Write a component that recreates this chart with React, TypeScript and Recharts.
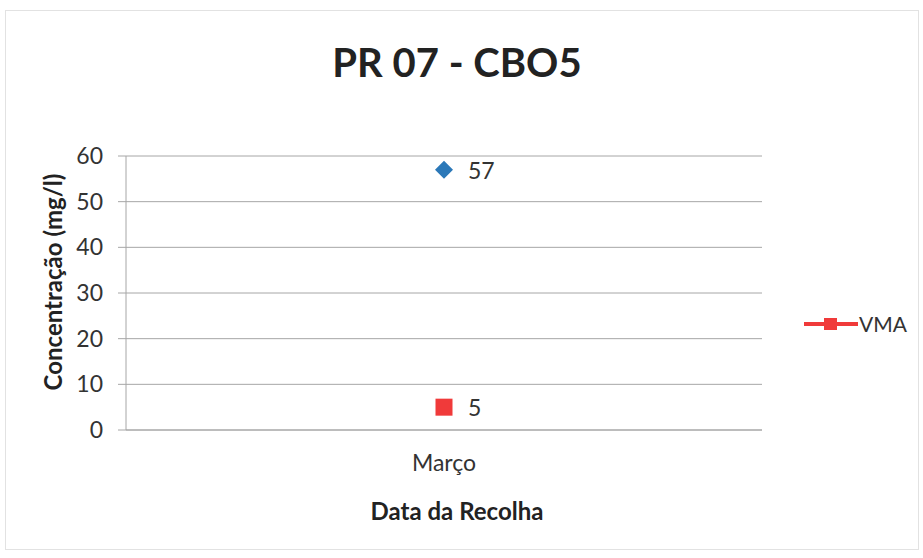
import { ComposedChart, Line, XAxis, YAxis, CartesianGrid } from 'recharts';

const categories = ['Março'];
const cbo5Values = [57];
const vmaValues = [5];
const yTicks = [0, 10, 20, 30, 40, 50, 60];

const data = categories.map((cat, i) => ({
  cat,
  cbo5: cbo5Values[i],
  vma: vmaValues[i],
}));

const FONT = 'Lato, "Open Sans", sans-serif';
const BLUE = '#2b78b8';
const RED = '#f03a3a';

const Diamond = (props: any) => {
  const { cx, cy } = props;
  if (cx == null || cy == null) return null;
  const r = 9;
  return <path d={`M${cx},${cy - r}L${cx + r},${cy}L${cx},${cy + r}L${cx - r},${cy}Z`} fill={BLUE} />;
};

const Square = (props: any) => {
  const { cx, cy } = props;
  if (cx == null || cy == null) return null;
  const s = 8.5;
  return <rect x={cx - s} y={cy - s} width={s * 2} height={s * 2} fill={RED} />;
};

const PointLabel = (props: any) => {
  const { x, y, value } = props;
  return (
    <text x={x + 24} y={y} dominantBaseline="central" fontSize={23} fill="#333" fontFamily={FONT}>
      {value}
    </text>
  );
};

const LegendBox = () => (
  <div style={{ display: 'flex', alignItems: 'center', fontFamily: FONT, fontSize: 21, color: '#333' }}>
    <svg width={54} height={14}>
      <line x1={0} y1={7} x2={54} y2={7} stroke={RED} strokeWidth={4} />
      <rect x={20} y={1} width={13} height={12} fill={RED} />
    </svg>
    <span style={{ marginLeft: 1 }}>VMA</span>
  </div>
);

const App = () => {
  return (
    <div style={{ position: 'absolute', left: 0, top: 0, width: 923, height: 558, background: '#fff' }}>
      <div
        style={{
          position: 'absolute',
          left: 5,
          top: 10,
          width: 912,
          height: 538,
          border: '1px solid #e2e2e2',
        }}
      />
      <div
        style={{
          position: 'absolute',
          left: 0,
          width: 914,
          top: 38,
          lineHeight: '48px',
          textAlign: 'center',
          fontFamily: FONT,
          fontWeight: 700,
          fontSize: 40,
          color: '#222',
        }}
      >
        PR 07 - CBO5
      </div>
      <div style={{ position: 'absolute', left: 804, top: 311 }}>
        <LegendBox />
      </div>
      <ComposedChart width={923} height={558} data={data} margin={{ top: 156, right: 161, bottom: 33, left: 0 }}>
        <CartesianGrid vertical={false} stroke="#a6a6a6" />
        <XAxis
          dataKey="cat"
          height={95}
          axisLine={{ stroke: '#a6a6a6' }}
          tickLine={false}
          tick={{ fontSize: 23, fill: '#333', fontFamily: FONT }}
          tickMargin={19}
          label={{
            value: 'Data da Recolha',
            position: 'insideBottom',
            offset: 5,
            dx: 13,
            style: { fontSize: 24, fontWeight: 700, fill: '#222', fontFamily: FONT },
          }}
        />
        <YAxis
          width={126}
          domain={[0, 60]}
          ticks={yTicks}
          interval={0}
          axisLine={{ stroke: '#a6a6a6' }}
          tickLine={{ stroke: '#a6a6a6' }}
          tickSize={8}
          tickMargin={15}
          tick={{ fontSize: 23, fill: '#333', fontFamily: FONT }}
          label={{
            value: 'Concentração (mg/l)',
            angle: -90,
            position: 'insideLeft',
            offset: 53,
            dy: -11,
            style: { textAnchor: 'middle', fontSize: 24, fontWeight: 700, fill: '#222', fontFamily: FONT },
          }}
        />
        <Line
          dataKey="cbo5"
          name="CBO5"
          stroke="none"
          dot={<Diamond />}
          activeDot={false}
          label={<PointLabel />}
          isAnimationActive={false}
        />
        <Line
          dataKey="vma"
          name="VMA"
          stroke={RED}
          strokeWidth={3}
          dot={<Square />}
          activeDot={false}
          label={<PointLabel />}
          isAnimationActive={false}
        />
      </ComposedChart>
    </div>
  );
};

export default App;
